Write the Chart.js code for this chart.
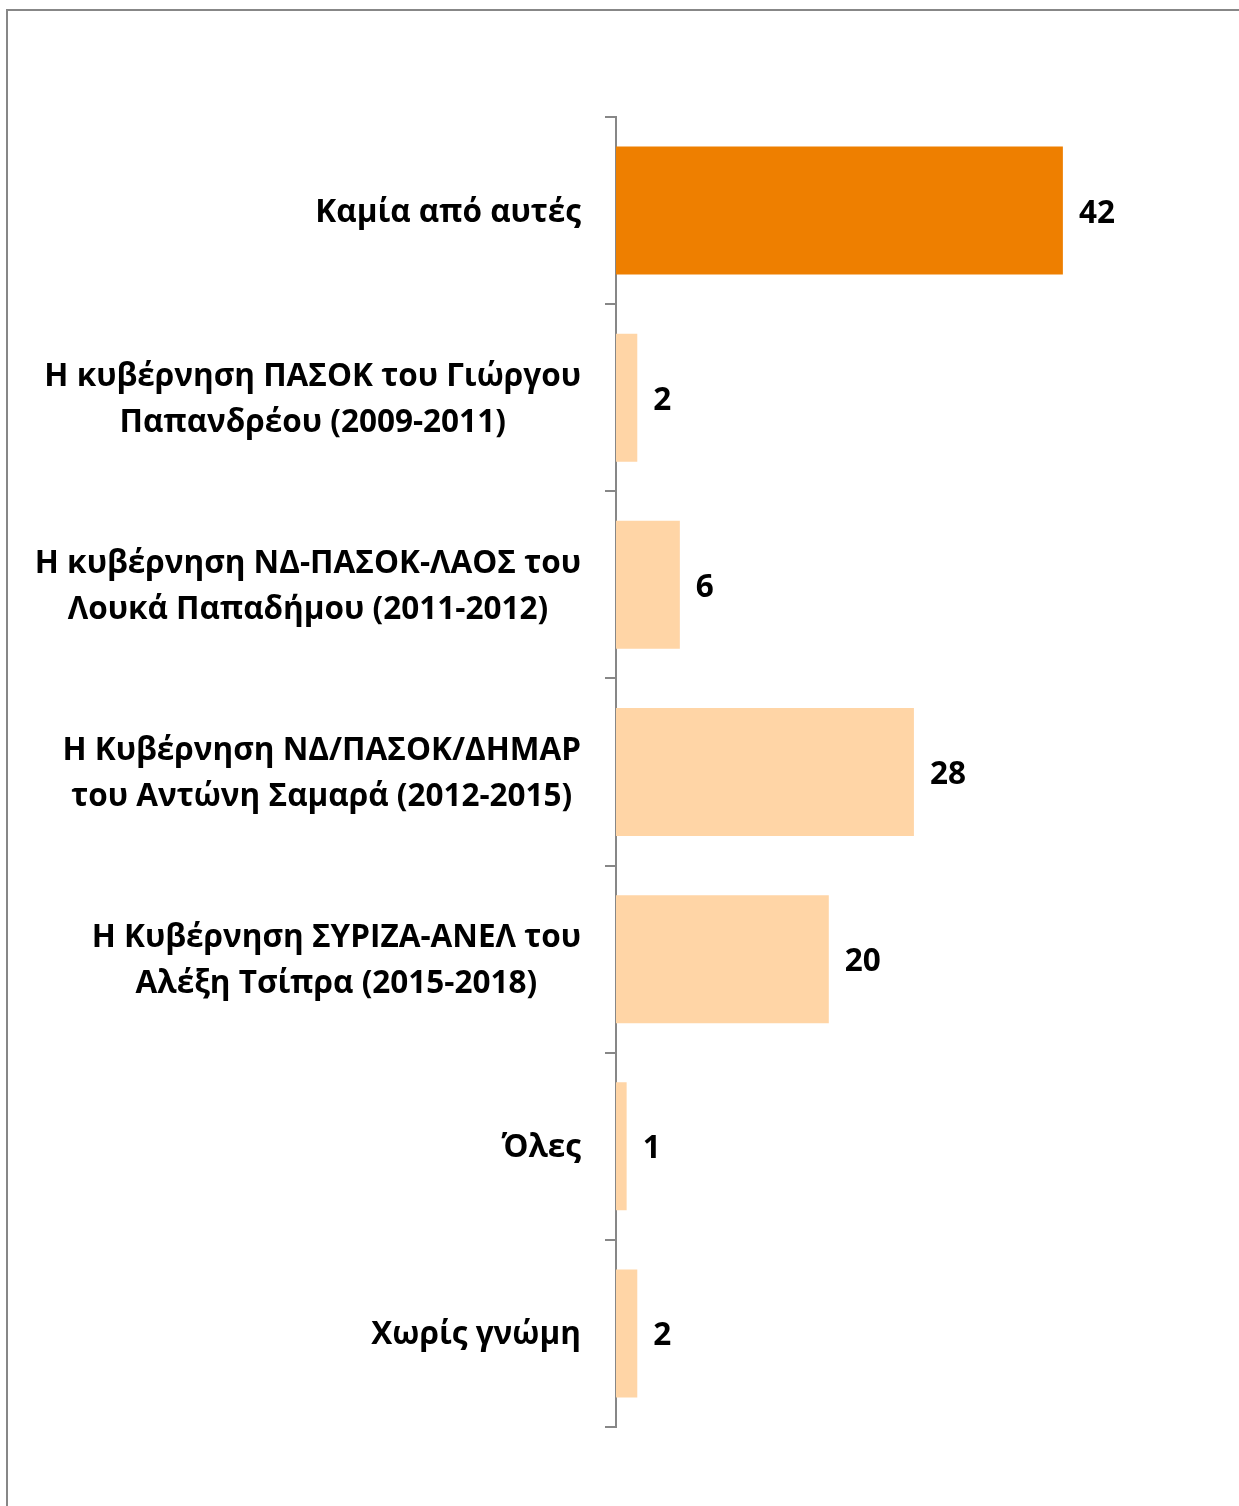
<!DOCTYPE html>
<html>
<head>
<meta charset="utf-8">
<script src="https://cdn.jsdelivr.net/npm/chart.js@4"></script>
<style>
  html, body { margin: 0; padding: 0; background: #fff; }
  #wrap { position: relative; width: 1239px; height: 1506px; overflow: hidden; }
  #frame { position: absolute; left: 6px; top: 9px; width: 1300px; height: 1600px;
           border-left: 2px solid #878787; border-top: 2px solid #878787; }
  canvas { position: absolute; left: 0; top: 0; }
</style>
</head>
<body>
<div id="wrap">
  <div id="frame"></div>
  <canvas id="myChart" width="1239" height="1506"></canvas>
</div>
<script>
// categories, one array per label line
var categories = [
  ["Καμία από αυτές"],
  ["Η κυβέρνηση ΠΑΣΟΚ του Γιώργου", "Παπανδρέου (2009-2011)"],
  ["Η κυβέρνηση ΝΔ-ΠΑΣΟΚ-ΛΑΟΣ του", "Λουκά Παπαδήμου (2011-2012)"],
  ["Η Κυβέρνηση ΝΔ/ΠΑΣΟΚ/ΔΗΜΑΡ", "του Αντώνη Σαμαρά (2012-2015)"],
  ["Η Κυβέρνηση ΣΥΡΙΖΑ-ΑΝΕΛ του", "Αλέξη Τσίπρα (2015-2018)"],
  ["Όλες"],
  ["Χωρίς γνώμη"]
];
var values = [42, 2, 6, 28, 20, 1, 2];
var barColors = ["#EE7F00", "#FFD5A6", "#FFD5A6", "#FFD5A6", "#FFD5A6", "#FFD5A6", "#FFD5A6"];

const font = "bold 31.5px 'Open Sans', sans-serif";

// labels: block right-aligned to the axis, lines centred inside the block
const labelPlugin = {
  id: "labels",
  afterDraw(chart) {
    const ctx = chart.ctx;
    const y = chart.scales.y;
    const x = chart.scales.x;
    ctx.save();
    ctx.font = font;
    ctx.fillStyle = "#000";
    ctx.textBaseline = "middle";
    ctx.textAlign = "center";
    const right = y.right - 11 - 24;
    const lineH = 46;
    categories.forEach(function(lines, i) {
      const cy = y.getPixelForValue(i) + 2;
      let widest = 0;
      lines.forEach(function(l) { widest = Math.max(widest, ctx.measureText(l).width); });
      const cx = right - widest / 2;
      const top = cy - (lines.length - 1) * lineH / 2;
      lines.forEach(function(l, k) { ctx.fillText(l, cx, top + k * lineH); });
    });
    ctx.textAlign = "left";
    values.forEach(function(v, i) {
      ctx.fillText(String(v), x.getPixelForValue(v) + 16, y.getPixelForValue(i) + 3);
    });
    ctx.restore();
  }
};

new Chart("myChart", {
  type: "bar",
  data: {
    labels: categories.map(function(c) { return c.join(" "); }),
    datasets: [{
      data: values,
      backgroundColor: barColors,
      borderWidth: 0,
      barPercentage: 0.684,
      categoryPercentage: 1
    }]
  },
  options: {
    indexAxis: "y",
    responsive: false,
    animation: false,
    layout: { padding: { top: 117, bottom: 79, right: 91, left: 0 } },
    plugins: { legend: { display: false }, tooltip: { enabled: false } },
    scales: {
      x: { display: false, min: 0, max: 50 },
      y: {
        afterFit: function(scale) { scale.width = 616; },
        border: { color: "#878787", width: 2 },
        grid: { drawOnChartArea: false, color: "#878787", lineWidth: 2, tickLength: 11, offset: true },
        ticks: { display: false }
      }
    }
  },
  plugins: [labelPlugin]
});
</script>
</body>
</html>
